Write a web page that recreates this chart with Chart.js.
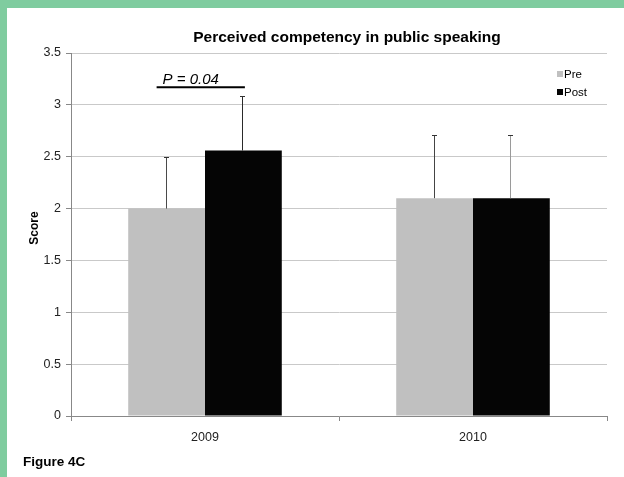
<!DOCTYPE html>
<html>
<head>
<meta charset="utf-8">
<title>Perceived competency in public speaking</title>
<script src="https://cdn.jsdelivr.net/npm/chart.js@4/dist/chart.umd.min.js"></script>
<style>
  html, body { margin: 0; padding: 0; background: #7fcc9f; width: 624px; height: 477px; overflow: hidden; }
  #frame { position: absolute; left: 7px; top: 8px; width: 617px; height: 469px; background: #ffffff; }
  canvas { display: block; }
</style>
</head>
<body>
<div id="frame"><canvas id="chart" width="617" height="469"></canvas></div>
<script>
// ---- data ----
const categories = ['2009', '2010'];
const seriesNames = ['Pre', 'Post'];
const preMeans = [2.0, 2.1];
const preSD = [0.5, 0.61];
const postMeans = [2.56, 2.1];
const postSD = [0.53, 0.61];
const yTicks = [0, 0.5, 1, 1.5, 2, 2.5, 3, 3.5];

// ---- text ----
const chartTitle = 'Perceived competency in public speaking';
const yAxisTitle = 'Score';
const figureLabel = 'Figure 4C';
const pLabel = 'P = 0.04';
const pLineValue = 3.17;

const FONT = '"Liberation Sans", Arial, Helvetica, sans-serif';
const seriesColors = ['#c0c0c0', '#050505'];
const errorColors = [['#4a4a4a', '#444444'], ['#2a2a2a', '#9a9a9a']];

// error bars drawn from each bar's mean up to mean + SD
const errorBars = {
  id: 'errorBars',
  afterDatasetsDraw(chart) {
    const ctx = chart.ctx;
    const y = chart.scales.y;
    ctx.save();
    ctx.lineWidth = 1;
    chart.data.datasets.forEach((ds, di) => {
      const meta = chart.getDatasetMeta(di);
      meta.data.forEach((bar, i) => {
        const x = Math.round(bar.x) - 0.5;
        const top = Math.round(y.getPixelForValue(ds.data[i] + ds.sd[i])) + 0.5;
        ctx.strokeStyle = errorColors[di][i];
        ctx.beginPath();
        ctx.moveTo(x, bar.y);
        ctx.lineTo(x, top);
        ctx.stroke();
        ctx.strokeStyle = '#333';
        ctx.beginPath();
        ctx.moveTo(x - 2.5, top);
        ctx.lineTo(x + 2.5, top);
        ctx.stroke();
      });
    });
    ctx.restore();
  }
};

// title, axis title, legend, significance marker and figure label
const annotations = {
  id: 'annotations',
  afterDraw(chart) {
    const ctx = chart.ctx;
    const area = chart.chartArea;
    const y = chart.scales.y;
    ctx.save();
    ctx.fillStyle = '#000';

    // chart title
    ctx.font = 'bold 15.5px ' + FONT;
    ctx.textAlign = 'center';
    ctx.textBaseline = 'alphabetic';
    ctx.fillText(chartTitle, (area.left + area.right) / 2 + 8, 34);

    // y axis title
    ctx.save();
    ctx.translate(28, 220);
    ctx.rotate(-Math.PI / 2);
    ctx.font = 'bold 12px ' + FONT;
    ctx.textAlign = 'center';
    ctx.textBaseline = 'middle';
    ctx.fillText(yAxisTitle, 0, 0);
    ctx.restore();

    // legend
    ctx.font = '11.5px ' + FONT;
    ctx.textAlign = 'left';
    ctx.textBaseline = 'alphabetic';
    seriesNames.forEach((name, i) => {
      const top = 63 + i * 18;
      ctx.fillStyle = seriesColors[i];
      ctx.fillRect(550, top, 6, 6);
      ctx.fillStyle = '#000';
      ctx.fillText(name, 557, top + 7);
    });

    // significance marker over the 2009 pair
    const preBar = chart.getDatasetMeta(0).data[0];
    const postBar = chart.getDatasetMeta(1).data[0];
    const ly = y.getPixelForValue(pLineValue);
    ctx.strokeStyle = '#000';
    ctx.lineWidth = 2;
    ctx.beginPath();
    ctx.moveTo(preBar.x - 10, ly);
    ctx.lineTo(postBar.x + 1.5, ly);
    ctx.stroke();
    ctx.font = 'italic 15px ' + FONT;
    ctx.fillText(pLabel, preBar.x - 4, ly - 3.5);

    // figure label
    ctx.font = 'bold 13.5px ' + FONT;
    ctx.fillText(figureLabel, 16, 458);
    ctx.restore();
  }
};

new Chart(document.getElementById('chart'), {
  type: 'bar',
  data: {
    labels: categories,
    datasets: [
      { label: seriesNames[0], data: preMeans, sd: preSD, backgroundColor: seriesColors[0] },
      { label: seriesNames[1], data: postMeans, sd: postSD, backgroundColor: seriesColors[1] }
    ]
  },
  options: {
    responsive: false,
    animation: false,
    devicePixelRatio: 1,
    layout: { padding: { left: 0, right: 17, top: 45, bottom: 31 } },
    datasets: { bar: { categoryPercentage: 0.573, barPercentage: 1 } },
    plugins: {
      legend: { display: false },
      title: { display: false },
      tooltip: { enabled: false }
    },
    scales: {
      x: {
        grid: { offset: true, drawOnChartArea: false, drawTicks: true, tickLength: 5, color: '#888' },
        border: { color: '#888' },
        ticks: { color: '#222', font: { family: FONT, size: 12.5 }, padding: 9 },
        afterFit(scale) { scale.height = 30; }
      },
      y: {
        min: 0,
        max: 3.5,
        afterBuildTicks(scale) { scale.ticks = yTicks.map(v => ({ value: v })); },
        grid: { color: '#c9c9c9', tickColor: '#888', tickLength: 5 },
        border: { color: '#888' },
        ticks: {
          color: '#222',
          font: { family: FONT, size: 12.5 },
          padding: 5,
          callback: (value) => String(value)
        },
        afterFit(scale) { scale.width = 64; }
      }
    }
  },
  plugins: [errorBars, annotations]
});
</script>
</body>
</html>
